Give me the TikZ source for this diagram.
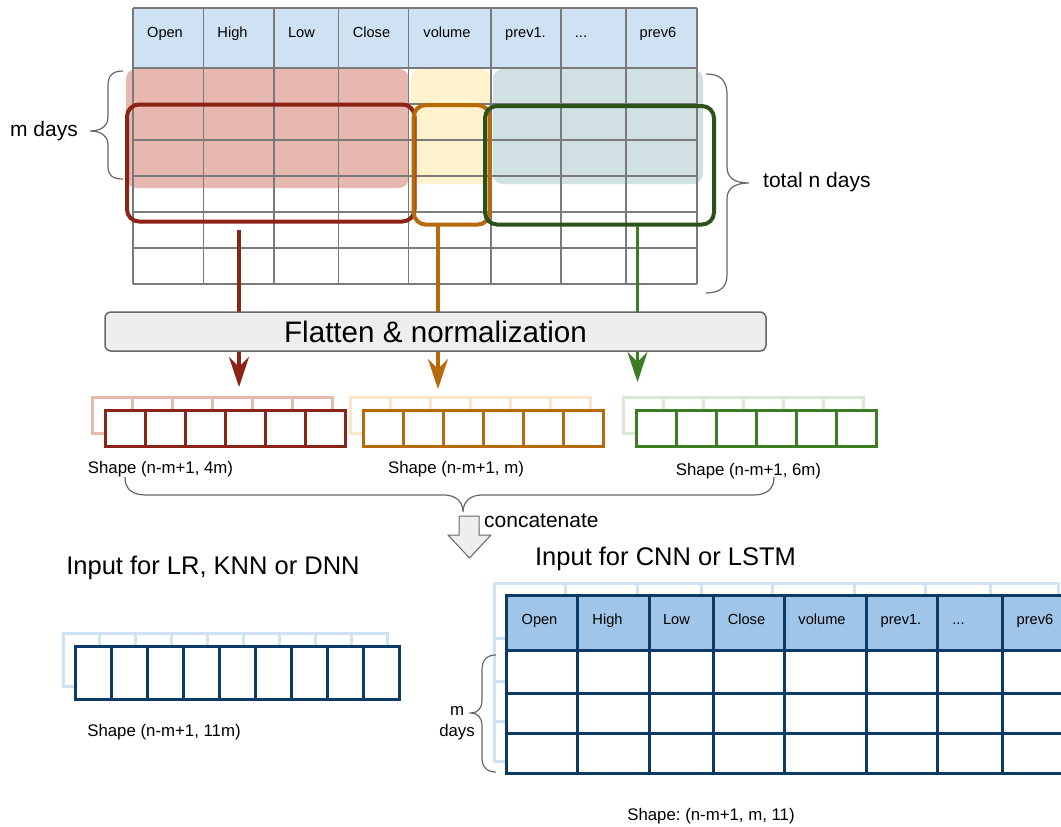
\documentclass[tikz,border=0pt]{standalone}
\usepackage{fontspec}
\setmainfont{Liberation Sans}
\usetikzlibrary{arrows.meta}
\frenchspacing
\definecolor{dred}{HTML}{8B2316}
\definecolor{dorange}{HTML}{B8690A}
\definecolor{dgreenbox}{HTML}{2A5219}
\definecolor{dgreen}{HTML}{3C7D23}
\definecolor{lred}{HTML}{E6B8AF}
\definecolor{lyellow}{HTML}{FFF2CC}
\definecolor{lteal}{HTML}{D0E0E3}
\definecolor{lblue}{HTML}{CFE2F3}
\definecolor{mblue}{HTML}{9FC5E8}
\definecolor{dblue}{HTML}{0B3B66}
\definecolor{lorange}{HTML}{FCE5CD}
\definecolor{lgreen}{HTML}{D9EAD3}
\definecolor{gridgray}{HTML}{7A7A7A}
\definecolor{bracegray}{HTML}{666666}
\definecolor{boxgray}{HTML}{EEEEEE}
\begin{document}
\begin{tikzpicture}[x=1pt,y=-1pt,
  grid/.style={draw=gridgray, line width=1.5pt},
  fillbox/.style={rounded corners=10pt},
  selbox/.style={draw, line width=4pt, rounded corners=12pt, inner sep=0pt},
  conn/.style={line width=3.2pt, -{Stealth[length=30pt,width=20pt,inset=10pt]}},
  cellb/.style={line width=3pt},
  lbl/.style={font=\fontsize{16.8}{20}\selectfont, inner sep=0pt},
  hdr/.style={font=\fontsize{14.6}{17}\selectfont, inner sep=0pt, anchor=base},
  side/.style={font=\fontsize{21}{24}\selectfont, inner sep=0pt},
  title/.style={font=\fontsize{25.5}{30}\selectfont, inner sep=0pt},
  brace/.style={draw=bracegray, line width=1.2pt},
  flat/.style={draw=bracegray, fill=boxgray, line width=1.5pt, rounded corners=6pt,
     minimum width=661pt, minimum height=39pt, font=\fontsize{29.6}{34}\selectfont}
]
\useasboundingbox (0,0) rectangle (1061,827);
\fill[white] (0,0) rectangle (1061,827);
\clip (0,0) rectangle (1061,827);

% ---------- top table ----------
\fill[lblue] (133,8) rectangle (697,68);
\fill[lred, fillbox] (126,69) rectangle (409,188);
\fill[lyellow, fillbox] (411,69) rectangle (491,184);
\fill[lteal, fillbox] (493,69) rectangle (703,184);
\foreach \x in {133,203.5,274,338.5,408.5,491,561,626,697}
  \draw[grid] (\x,8) -- (\x,284);
\foreach \y in {8,68,104,140,176,212,248,284}
  \draw[grid] (133,\y) -- (697,\y);
\foreach \t/\x in {Open/165, High/232.5, Low/301.5, Close/371.5, volume/447, prev1./525.5, prev6/658}
  \node[hdr] at (\x,37.2) {\t};
\node[hdr] (dotsA) at (581,37.2) {...};

% selection boxes
\node[selbox, draw=dred, minimum width=287.5pt, minimum height=117pt] (rbox) at (270.75,163) {};
\node[selbox, draw=dorange, minimum width=76pt, minimum height=119.5pt] (obox) at (451.7,164.8) {};
\node[selbox, draw=dgreenbox, minimum width=229pt, minimum height=118.5pt] (gbox) at (599.5,165.25) {};

% connectors
\coordinate (rs) at (239,230);
\coordinate (rt) at (239,387);
\coordinate (os) at (438,226);
\coordinate (ot) at (438,389);
\coordinate (gs) at (637.5,226);
\coordinate (gt) at (637.5,382);
\draw[conn, dred] (rs) -- (rt);
\draw[conn, dorange] (os) -- (ot);
\draw[conn, dgreen] (gs) -- (gt);

\node[flat] (flat) at (435.5,331.5) {Flatten \& normalization};

% braces top
\draw[brace] (123,71) .. controls (112,71) and (108,76) .. (108,86) -- (108,117)
  .. controls (108,126) and (101,131) .. (90,131)
  .. controls (101,131) and (108,136) .. (108,145) -- (108,166)
  .. controls (108,175) and (112,179) .. (123,179);
\node[side] (mdays) at (44,131) {m days};
\draw[brace] (706,74) .. controls (720,74) and (727,80) .. (727,95) -- (727,167)
  .. controls (727,178) and (735,183) .. (749,183)
  .. controls (735,183) and (727,188) .. (727,199) -- (727,275)
  .. controls (727,287) and (720,293) .. (706,293);
\node[side, anchor=west] (ndays) at (763,182) {total n days};

% ---------- flattened arrays ----------
\foreach \i in {0,1,2,3,4,5} \draw[cellb, draw=lred] ({92+40*\i},397) rectangle ++(40,36);
\foreach \i in {0,1,2,3,4,5} \draw[cellb, draw=dred, fill=white] ({105+40*\i},410) rectangle ++(40,36);
\foreach \i in {0,1,2,3,4,5} \draw[cellb, draw=lorange] ({350+40*\i},397) rectangle ++(40,36);
\foreach \i in {0,1,2,3,4,5} \draw[cellb, draw=dorange, fill=white] ({363+40*\i},410) rectangle ++(40,36);
\foreach \i in {0,1,2,3,4,5} \draw[cellb, draw=lgreen] ({623+40*\i},397) rectangle ++(40,36);
\foreach \i in {0,1,2,3,4,5} \draw[cellb, draw=dgreen, fill=white] ({636+40*\i},410) rectangle ++(40,36);

\node[lbl] (s1) at (160.5,469) {Shape (n-m+1, 4m)};
\node[lbl] (s2) at (456,469) {Shape (n-m+1, m)};
\node[lbl] (s3) at (748.5,471) {Shape (n-m+1, 6m)};

% concatenate brace
\draw[brace] (125,477) .. controls (125,489) and (132,495) .. (146,495) -- (444,495)
  .. controls (456,495) and (463,502) .. (463,512)
  .. controls (463,502) and (470,495) .. (482,495) -- (753,495)
  .. controls (767,495) and (774,489) .. (774,477);

% concatenate arrow
\draw[draw=bracegray, fill=boxgray, line width=1pt, line join=miter]
  (459,516) -- (479,516) -- (479,535) -- (491,535) -- (469.5,558) -- (448,535) -- (459,535) -- cycle;
\node[side, anchor=west] (cat) at (484,521) {concatenate};

% ---------- bottom left ----------
\node[title] (t1) at (213,568) {Input for LR, KNN or DNN};
\foreach \i in {0,1,2,3,4,5,6,7,8} \draw[cellb, draw=lblue] ({63+36*\i},633) rectangle ++(36,53);
\foreach \i in {0,1,2,3,4,5,6,7,8} \draw[cellb, draw=dblue, fill=white] ({75+36*\i},646) rectangle ++(36,53);
\node[lbl] (s4) at (164,732) {Shape (n-m+1, 11m)};

% ---------- bottom right ----------
\node[title] (t2) at (665.5,559) {Input for CNN or LSTM};
\def\colsF{506/577,577/649,649/713,713/784,784/866.5,866.5/937,937/1002,1002/1070}
\foreach \a/\b in \colsF {
  \foreach \u/\v in {595/650,650/693,693/733,733/773}
    \draw[cellb, draw=lblue] (\a-12,\u-12) rectangle (\b-12,\v-12);
}
\foreach \a/\b in \colsF {
  \draw[cellb, draw=dblue, fill=mblue] (\a,595) rectangle (\b,650);
  \foreach \u/\v in {650/693,693/733,733/773}
    \draw[cellb, draw=dblue, fill=white] (\a,\u) rectangle (\b,\v);
}
\foreach \t/\x in {Open/539.5, High/607.5, Low/676.5, Close/746.5, volume/822, prev1./901, prev6/1035}
  \node[hdr] at (\x,624.2) {\t};
\node[hdr] (dotsB) at (958.5,624.2) {...};

\draw[brace] (496,655) .. controls (487,655) and (482,660) .. (482,670) -- (482,700)
  .. controls (482,708) and (478,713) .. (471,713)
  .. controls (478,713) and (482,718) .. (482,726) -- (482,758)
  .. controls (482,767) and (487,772) .. (496,772);
\node[lbl, align=center, font=\fontsize{16.8}{21}\selectfont] (md2) at (457,723) {m\\days};

\node[lbl] (s5) at (711,816) {Shape: (n-m+1, m, 11)};
\end{tikzpicture}
\end{document}
